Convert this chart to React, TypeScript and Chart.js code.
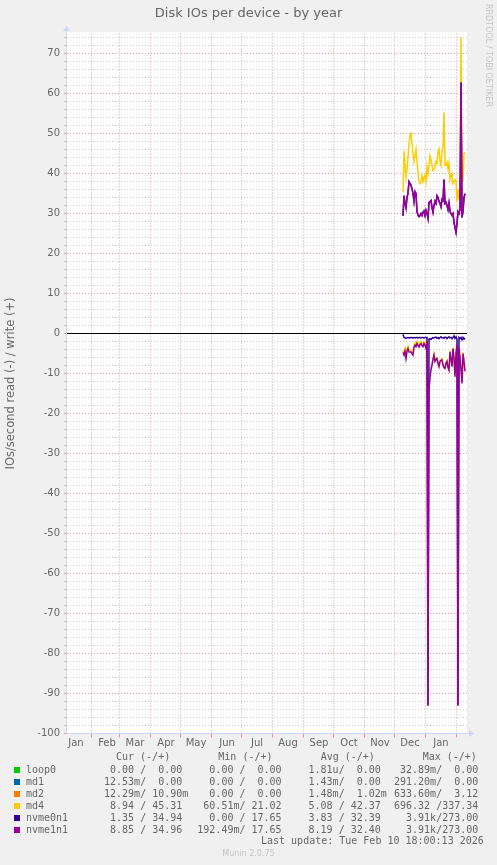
import React, { useEffect, useRef } from 'react';
import { Chart, registerables } from 'chart.js';

Chart.register(...registerables);

// ---- axis data (x = day index counted from 2025-01-01) ----
const X_MIN = 7;
const X_MAX = 407;
const Y_MIN = -100;
const Y_MAX = 75;
const monthStarts = [31, 59, 90, 120, 151, 181, 212, 243, 273, 304, 334, 365, 396];
const monthMids = [16, 47, 75, 106, 136, 167, 197, 228, 259, 289, 320, 350, 381];
const monthNames = ['Jan', 'Feb', 'Mar', 'Apr', 'May', 'Jun', 'Jul', 'Aug', 'Sep', 'Oct', 'Nov', 'Dec', 'Jan'];

// ---- series data: daily values, days 343 .. 405 ----
const days = [
  343, 344, 345, 346, 347, 348, 349, 350, 351, 352,
  353, 354, 355, 356, 357, 358, 359, 360, 361, 362,
  363, 364, 365, 366, 367, 368, 369, 370, 371, 372,
  373, 374, 375, 376, 377, 378, 379, 380, 381, 382,
  383, 384, 385, 386, 387, 388, 389, 390, 391, 392,
  393, 394, 395, 396, 397, 398, 399, 400, 401, 402,
  403, 404, 405,
];

const md4Write = [
  35.3, 45.7, 42, 39, 41, 44, 47.5, 49.5, 50, 47.5,
  45, 43, 44.5, 46, 43, 40, 38, 37.5, 38, 39.5,
  38, 39, 39.5, 38, 41.6, 40, 42, 44.5, 43.5, 42,
  40.7, 41, 42, 43, 42.5, 45.5, 46.2, 43, 42, 45.3,
  47, 55.3, 42, 42, 42.8, 41.2, 42.5, 38.5, 39.5, 40,
  37.5, 38, 38.5, 38, 33, 36, 33.5, 38, 74, 42,
  38, 45, 45.3,
];
const md4Read = [
  -4.3, -5.0, -3.8, -5.8, -4.0, -3.3, -4.1, -4.0, -4.2, -4.6,
  -5.0, -3.0, -2.4, -2.8, -2.0, -2.6, -3.0, -2.3, -2.0, -2.6,
  -2.9, -2.1, -2.6, -3.3, -1.7, -20, -13.5, -10.6, -8.7, -7.6,
  -6.2, -5.1, -6.7, -6.2, -6.0, -7.2, -8.0, -6.7, -6.5, -6.3,
  -7.6, -8.2, -8.5, -7.2, -6.7, -8.2, -8.9, -4.3, -6.2, -8.0,
  -3.5, -6.0, -10.5, -4.7, -2.6, -18, -3.5, -5.7, -8.7, -12.2,
  -4.7, -6.7, -9.2,
];
const nvme0n1Write = [
  29.4, 34.4, 32.6, 31.4, 34, 35.1, 37.9, 37.5, 37.1, 36.2,
  35, 33.1, 35.4, 35, 30.5, 29.6, 29.2, 29.4, 30, 29.5,
  30.3, 30.6, 29.5, 30.8, 30.1, 28.8, 32.7, 33, 33.2, 31.5,
  30.3, 32, 33.1, 32.5, 34.4, 34, 33, 32.6, 31.7, 33.5,
  33.2, 38.5, 32.5, 32.8, 32.1, 31, 32.6, 30.5, 30, 29.6,
  30, 27.8, 26.6, 25.3, 27.5, 30.4, 30, 31, 62.7, 29,
  30.5, 34, 34.9,
];
const nvme0n1Read = [
  -0.2, -1.0, -1.1, -1.2, -1.0, -1.1, -1.0, -1.1, -1.0, -1.0,
  -1.1, -1.0, -1.1, -1.0, -1.0, -1.1, -1.0, -1.0, -1.1, -1.0,
  -1.0, -1.1, -1.0, -1.0, -1.0, -93, -1.4, -1.3, -1.5, -1.2,
  -1.0, -1.1, -1.0, -0.9, -1.2, -1.0, -1.3, -1.0, -0.8, -1.1,
  -1.0, -1.2, -0.9, -1.0, -1.3, -1.0, -0.8, -1.1, -1.0, -1.3,
  -1.0, -0.6, -1.2, -0.8, -1.5, -93, -1.0, -1.3, -1.0, -1.6,
  -1.0, -1.4, -1.1,
];
const nvme1n1Write = [
  29.5, 34.5, 32.5, 31.5, 34, 35, 38, 37.5, 37, 36.2,
  35, 33, 35.5, 35, 30.5, 29.5, 29.2, 29.5, 30, 29.5,
  30.3, 30.7, 29.5, 30.8, 30, 28.8, 32.8, 33, 33.3, 31.5,
  30.3, 32, 33, 32.5, 34.5, 34, 33, 32.5, 31.7, 33.5,
  33.3, 38.5, 32.5, 32.8, 32, 31, 32.6, 30.5, 30, 29.5,
  30, 27.8, 26.5, 25.3, 27.5, 30.5, 30, 31, 62.8, 29,
  30.5, 34, 35,
];
const nvme1n1Read = [
  -4.75, -5.4, -4.4, -6.25, -4.5, -3.75, -4.6, -4.6, -4.6, -5.0,
  -5.4, -3.5, -2.9, -3.3, -2.5, -3.0, -3.4, -2.8, -2.5, -3.0,
  -3.3, -2.5, -3.0, -3.75, -2.1, -93, -14, -11, -9, -7.9,
  -6.5, -5.4, -7, -6.5, -6.25, -7.5, -8.3, -7, -6.8, -6.6,
  -7.9, -8.5, -8.75, -7.5, -7, -8.5, -9.2, -4.6, -6.5, -8.3,
  -3.75, -6.25, -10.8, -5, -2.9, -93, -3.75, -6, -9, -12.5,
  -5, -7, -9.5,
];

// near-zero devices (sampled at the two ends of the data period)
const flatDays = [343, 405];
const loop0Write = [0, 0];
const loop0Read = [0, 0];
const md1Write = [0, 0];
const md1Read = [-0.01, -0.01];
const md2Write = [0.01, 0.01];
const md2Read = [-0.01, -0.01];

// ---- legend data ----
const deviceNames = ['loop0', 'md1', 'md2', 'md4', 'nvme0n1', 'nvme1n1'];
const deviceColors = ['#00CC00', '#0066B3', '#FF8000', '#FFCC00', '#330099', '#990099'];
const curRead = ['0.00', '12.53m', '12.29m', '8.94', '1.35', '8.85'];
const curWrite = ['0.00', '0.00', '10.90m', '45.31', '34.94', '34.96'];
const minRead = ['0.00', '0.00', '0.00', '60.51m', '0.00', '192.49m'];
const minWrite = ['0.00', '0.00', '0.00', '21.02', '17.65', '17.65'];
const avgRead = ['1.81u', '1.43m', '1.48m', '5.08', '3.83', '8.19'];
const avgWrite = ['0.00', '0.00', '1.02m', '42.37', '32.39', '32.40'];
const maxRead = ['32.89m', '291.20m', '633.60m', '696.32', '3.91k', '3.91k'];
const maxWrite = ['0.00', '0.00', '3.12', '337.34', '273.00', '273.00'];
const columnHeads = ['Cur (-/+)', 'Min (-/+)', 'Avg (-/+)', 'Max (-/+)'];

const GRID = 'rgba(143,143,143,0.46)';
const MGRID = 'rgba(224,80,80,0.56)';
const AXIS = '#CFD6F8';
const FONT = '#666666';

function fmt(v: string): string {
  const m = v.match(/^([\d.]+)([a-zA-Z]?)$/);
  if (!m) return v;
  return m[1].padStart(6, ' ') + (m[2] || ' ');
}

function pts(xs: number[], ys: number[]) {
  return xs.map((x, i) => ({ x, y: ys[i] }));
}

const yTickValues: number[] = [];
for (let v = Y_MIN; v <= Y_MAX; v += 2) yTickValues.push(v);

const munPlugin = {
  id: 'muninDecor',
  beforeDraw(chart: any) {
    const { ctx, chartArea } = chart;
    ctx.save();
    ctx.fillStyle = '#F0F0F0';
    ctx.fillRect(0, 0, chart.width, chart.height);
    ctx.fillStyle = '#FFFFFF';
    const t = Math.floor(chartArea.top) - 1;
    ctx.fillRect(chartArea.left, t, chartArea.right - chartArea.left, Math.floor(chartArea.bottom) - t);
    ctx.restore();
  },
  afterDatasetsDraw(chart: any) {
    const { ctx, chartArea } = chart;
    const y0 = Math.floor(chart.scales.y.getPixelForValue(0)) + 0.5;
    ctx.save();
    ctx.strokeStyle = '#000000';
    ctx.lineWidth = 1;
    ctx.beginPath();
    ctx.moveTo(chartArea.left, y0);
    ctx.lineTo(chartArea.right, y0);
    ctx.stroke();
    ctx.restore();
  },
  afterDraw(chart: any) {
    const { ctx, chartArea } = chart;
    const l = Math.round(chartArea.left) - 0.5;
    const b = Math.floor(chartArea.bottom) + 0.5;
    const top = Math.floor(chartArea.top);
    ctx.save();
    ctx.strokeStyle = AXIS;
    ctx.fillStyle = AXIS;
    ctx.lineWidth = 1;
    ctx.beginPath();
    ctx.moveTo(l, b);
    ctx.lineTo(l, top - 3);
    ctx.moveTo(l, b);
    ctx.lineTo(chartArea.right + 3, b);
    ctx.stroke();
    // y arrow
    ctx.beginPath();
    ctx.moveTo(l - 3.5, top - 2);
    ctx.lineTo(l + 3.5, top - 2);
    ctx.lineTo(l, top - 7);
    ctx.closePath();
    ctx.fill();
    // x arrow
    ctx.beginPath();
    ctx.moveTo(chartArea.right + 2, b - 3.5);
    ctx.lineTo(chartArea.right + 2, b + 3.5);
    ctx.lineTo(chartArea.right + 7, b);
    ctx.closePath();
    ctx.fill();
    ctx.restore();
  },
};

export default function App() {
  const ref = useRef<HTMLCanvasElement>(null);

  useEffect(() => {
    if (!ref.current) return;
    Chart.defaults.font.family = 'DejaVu Sans';
    const writes = [loop0Write, md1Write, md2Write, md4Write, nvme0n1Write, nvme1n1Write];
    const reads = [loop0Read, md1Read, md2Read, md4Read, nvme0n1Read, nvme1n1Read];
    const xsFor = [flatDays, flatDays, flatDays, days, days, days];
    const datasets: any[] = [];
    deviceNames.forEach((name, i) => {
      const common = {
        borderColor: deviceColors[i],
        backgroundColor: deviceColors[i],
        borderWidth: i < 3 ? 1 : 1.5,
        pointRadius: 0,
        tension: 0,
        fill: false,
        order: deviceNames.length - i,
      };
      datasets.push({ ...common, label: name + ' read', data: pts(xsFor[i], reads[i]) });
      datasets.push({ ...common, label: name + ' write', data: pts(xsFor[i], writes[i]) });
    });

    const chart = new Chart(ref.current, {
      type: 'line',
      data: { datasets },
      plugins: [munPlugin],
      options: {
        animation: false,
        responsive: false,
        devicePixelRatio: 1,
        events: [],
        layout: { padding: 0 },
        plugins: {
          legend: { display: false },
          tooltip: { enabled: false },
          title: {
            display: true,
            text: 'Disk IOs per device - by year',
            color: FONT,
            font: { family: 'DejaVu Sans', size: 13, weight: 'normal' },
            padding: { top: 5.5, bottom: 12.4 },
          },
        },
        scales: {
          x: {
            type: 'linear',
            min: X_MIN,
            max: X_MAX,
            afterBuildTicks: (s: any) => {
              s.ticks = [...monthStarts, ...monthMids].sort((a, b) => a - b).map((v) => ({ value: v }));
            },
            afterFit: (s: any) => {
              s.height = 131.5;
            },
            ticks: {
              autoSkip: false,
              maxRotation: 0,
              minRotation: 0,
              padding: 0,
              color: FONT,
              font: { family: 'DejaVu Sans', size: 10 },
              callback: (v: any) => {
                const i = monthMids.indexOf(Number(v));
                return i >= 0 ? monthNames[i] : '';
              },
            },
            grid: {
              color: (c: any) => (c.tick && monthStarts.includes(c.tick.value) ? MGRID : 'rgba(0,0,0,0)'),
              tickColor: (c: any) => (c.tick && monthStarts.includes(c.tick.value) ? MGRID : 'rgba(0,0,0,0)'),
              tickLength: 4,
              lineWidth: 1,
            },
            border: { display: false, dash: [1, 2] },
          },
          y: {
            type: 'linear',
            position: 'left',
            min: Y_MIN,
            max: Y_MAX,
            afterBuildTicks: (s: any) => {
              s.ticks = yTickValues.map((v) => ({ value: v }));
            },
            afterFit: (s: any) => {
              s.width = 67;
            },
            ticks: {
              autoSkip: false,
              padding: 4,
              color: FONT,
              font: { family: 'DejaVu Sans', size: 10 },
              callback: (v: any) => (Number(v) % 10 === 0 ? String(v) : ''),
            },
            grid: {
              color: (c: any) => (c.tick && c.tick.value % 10 === 0 ? MGRID : GRID),
              tickColor: (c: any) => (c.tick && c.tick.value % 10 === 0 ? MGRID : GRID),
              tickLength: 3,
              lineWidth: 1,
            },
            border: { display: false, dash: [1, 2] },
            title: {
              display: true,
              text: 'IOs/second read (-) / write (+)',
              color: FONT,
              font: { family: 'DejaVu Sans', size: 11.5 },
              padding: { top: 4, bottom: 0 },
            },
          },
          spacer: {
            type: 'linear',
            position: 'right',
            display: true,
            min: 0,
            max: 1,
            afterFit: (s: any) => {
              s.width = 30;
            },
            grid: { display: false, drawTicks: false },
            ticks: { display: false },
            border: { display: false },
          },
        },
      } as any,
    });
    return () => chart.destroy();
  }, []);

  const mono: React.CSSProperties = {
    position: 'absolute',
    fontFamily: '"DejaVu Sans Mono", monospace',
    fontSize: 10,
    lineHeight: '12px',
    whiteSpace: 'pre',
    color: FONT,
  };
  const headX = [116, 218.3, 320.7, 422.7];
  const blockX = [98, 197.3, 296.5, 394];
  const cols = [
    [curRead, curWrite],
    [minRead, minWrite],
    [avgRead, avgWrite],
    [maxRead, maxWrite],
  ];

  return (
    <div
      style={{
        position: 'fixed',
        left: 0,
        top: 0,
        width: 497,
        height: 865,
        background: '#F0F0F0',
        overflow: 'hidden',
      }}
    >
      <canvas ref={ref} width={497} height={865} style={{ position: 'absolute', left: 0, top: 0, width: 497, height: 865 }} />
      <div
        style={{
          position: 'absolute',
          left: 484,
          top: 4,
          writingMode: 'vertical-rl',
          fontFamily: '"DejaVu Sans", sans-serif',
          fontSize: 8,
          lineHeight: '8px',
          color: '#C4C4C4',
          whiteSpace: 'nowrap',
        }}
      >
        RRDTOOL / TOBI OETIKER
      </div>
      {columnHeads.map((h, i) => (
        <div key={'h' + i} style={{ ...mono, left: headX[i], top: 751 }}>
          {h}
        </div>
      ))}
      {deviceNames.map((name, r) => (
        <React.Fragment key={name}>
          <div
            style={{
              position: 'absolute',
              left: 14,
              top: 767 + r * 12,
              width: 6,
              height: 6,
              background: deviceColors[r],
            }}
          />
          <div style={{ ...mono, left: 26, top: 764 + r * 12 }}>{name}</div>
          {cols.map((c, k) => (
            <div key={k} style={{ ...mono, left: blockX[k], top: 764 + r * 12 }}>
              {fmt(c[0][r]) + '/' + fmt(c[1][r])}
            </div>
          ))}
        </React.Fragment>
      ))}
      <div style={{ ...mono, left: 261, top: 835 }}>Last update: Tue Feb 10 18:00:13 2026</div>
      <div
        style={{
          position: 'absolute',
          left: 0,
          width: 497,
          top: 849,
          textAlign: 'center',
          fontFamily: '"DejaVu Sans", sans-serif',
          fontSize: 8,
          lineHeight: '10px',
          color: '#C4C4C4',
        }}
      >
        Munin 2.0.75
      </div>
    </div>
  );
}
